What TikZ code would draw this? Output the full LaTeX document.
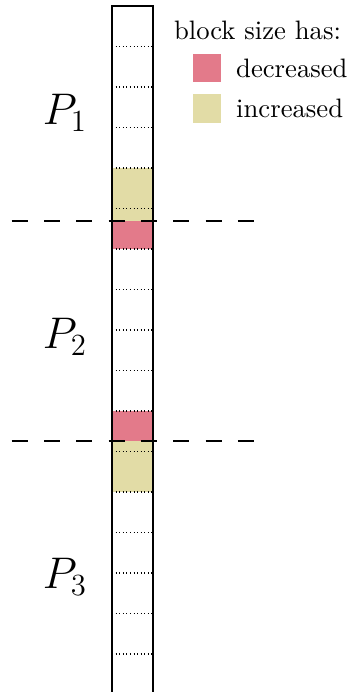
\documentclass[tikz,border=0pt]{standalone}
\usepackage{amsmath}
\usetikzlibrary{positioning}
\definecolor{shrunk}{RGB}{227,122,138}
\definecolor{grown}{RGB}{226,220,166}

\begin{document}
\begin{tikzpicture}[
    x=0.39pt, y=-0.39pt,
    wall/.style={semithick},
    split/.style={thick, dash pattern=on 6.25pt off 6.35pt},
    swatch/.style={rectangle, minimum width=11pt, minimum height=11pt, inner sep=0pt},
    legend/.style={font=\fontsize{10.4pt}{12.5pt}\selectfont},
    keytext/.style={legend, anchor=west, inner sep=0pt},
    part/.style={font=\LARGE}
]
\useasboundingbox (0,0) rectangle (348,692);

% changed blocks
\fill[grown] (112,168) rectangle (153,221);
\fill[shrunk] (112,221) rectangle (153,249);
\fill[shrunk] (112,411) rectangle (153,441);
\fill[grown] (112,441) rectangle (153,492);

% block boundaries
\foreach \k in {1,...,16}
    \draw[densely dotted, thin] (112,6+40.5*\k) -- (153,6+40.5*\k);

% column
\draw[wall] (112,692) -- (112,6) -- (153,6) -- (153,692);

% partition borders
\draw[split] (11.7,221) -- (254,221);
\draw[split] (11.7,441) -- (254,441);

% partitions
\node[part] (p1) at (65,113) {$P_1$};
\node[part] (p2) at (65,337) {$P_2$};
\node[part] (p3) at (65,577) {$P_3$};

% legend
\node[legend] (title) at (257.5,30) {block size has:};
\node[swatch, fill=shrunk] (keyred) at (207,68) {};
\node[swatch, fill=grown] (keyyellow) at (207,108.5) {};
\node[keytext, right=5.5pt of keyred] (dec) {decreased};
\node[keytext, right=5.5pt of keyyellow] (inc) {increased};
\end{tikzpicture}
\end{document}
